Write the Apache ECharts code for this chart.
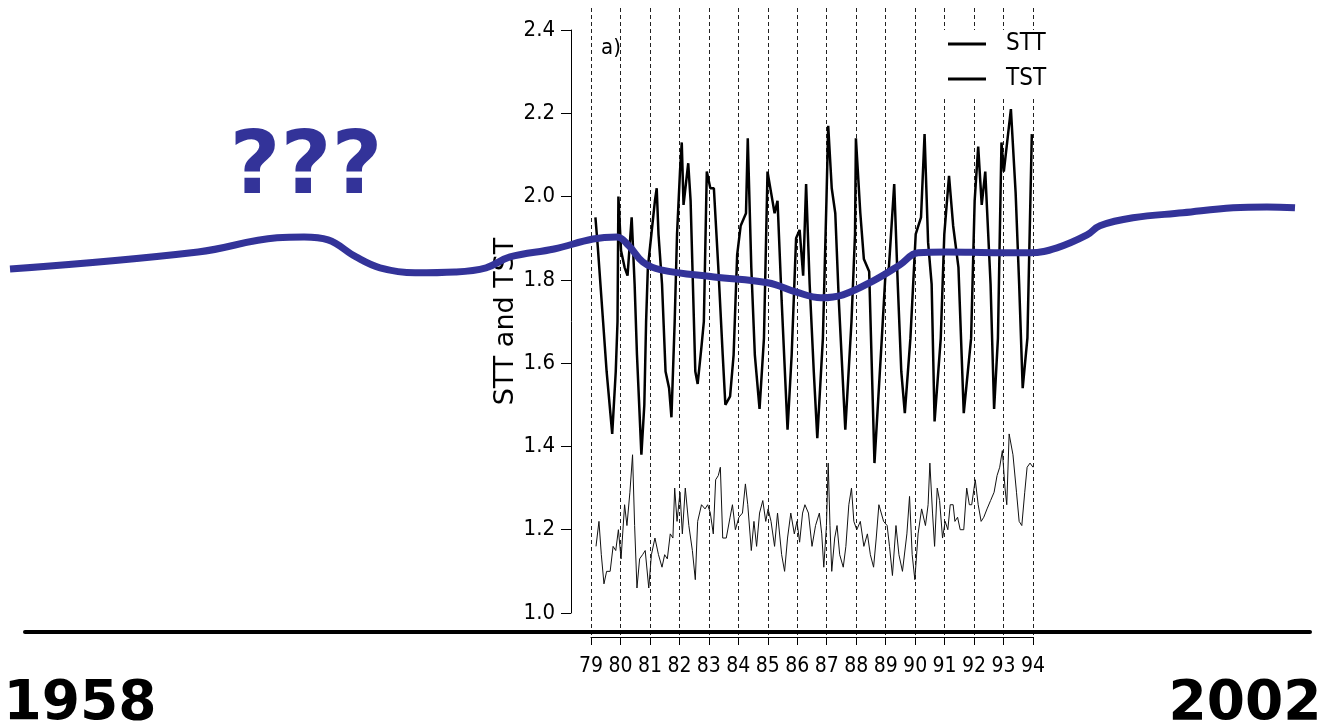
<!DOCTYPE html>
<html>
<head>
<meta charset="utf-8">
<script src="https://cdn.jsdelivr.net/npm/echarts@6/dist/echarts.min.js"></script>
<style>
html,body{margin:0;padding:0;background:#fff;}
#chart{width:1323px;height:728px;}
</style>
</head>
<body>
<div id="chart"></div>
<script>
// Inner chart: STT (thick) and TST (thin), years 79-94
var sttX = [79.15,79.23,79.41,79.53,79.72,79.84,79.90,79.93,80.02,80.14,80.24,80.38,80.48,80.56,80.71,80.81,80.87,80.93,81.05,81.17,81.23,81.29,81.41,81.53,81.65,81.73,81.84,81.92,82.02,82.08,82.14,82.30,82.38,82.54,82.62,82.75,82.83,82.93,83.05,83.17,83.32,83.47,83.56,83.72,83.84,83.96,84.08,84.26,84.32,84.44,84.56,84.72,84.87,84.99,85.11,85.23,85.33,85.47,85.67,85.81,85.96,86.08,86.20,86.30,86.42,86.56,86.68,86.87,86.99,87.05,87.17,87.29,87.41,87.63,87.84,87.96,87.99,88.14,88.26,88.44,88.62,88.87,88.99,89.11,89.29,89.41,89.53,89.65,89.84,90.02,90.20,90.32,90.44,90.56,90.66,90.87,90.99,91.15,91.29,91.47,91.65,91.90,92.02,92.14,92.26,92.38,92.56,92.68,92.81,92.93,93.01,93.25,93.41,93.53,93.65,93.81,93.96];
var sttY = [1.95,1.88,1.70,1.58,1.43,1.58,1.70,2.00,1.87,1.83,1.81,1.95,1.79,1.62,1.38,1.50,1.70,1.83,1.91,1.99,2.02,1.91,1.79,1.58,1.54,1.47,1.70,1.91,2.06,2.13,1.98,2.08,1.99,1.58,1.55,1.64,1.70,2.06,2.02,2.02,1.83,1.62,1.50,1.52,1.62,1.86,1.93,1.96,2.14,1.83,1.62,1.49,1.66,2.06,2.01,1.96,1.99,1.75,1.44,1.62,1.90,1.92,1.81,2.03,1.79,1.58,1.42,1.66,1.99,2.17,2.02,1.96,1.75,1.44,1.70,1.91,2.14,1.96,1.85,1.82,1.36,1.66,1.81,1.83,2.03,1.79,1.58,1.48,1.66,1.91,1.95,2.15,1.89,1.79,1.46,1.66,1.91,2.05,1.93,1.83,1.48,1.66,1.99,2.12,1.98,2.06,1.79,1.49,1.66,2.13,2.06,2.21,2.01,1.79,1.54,1.66,2.15];
var tstX = [79.17,79.27,79.35,79.44,79.53,79.65,79.75,79.84,79.93,80.02,80.14,80.22,80.32,80.41,80.48,80.56,80.65,80.75,80.84,80.96,81.05,81.17,81.29,81.41,81.50,81.59,81.69,81.78,81.84,81.92,82.02,82.10,82.20,82.32,82.44,82.54,82.62,82.75,82.87,82.96,83.05,83.15,83.23,83.32,83.39,83.47,83.59,83.72,83.80,83.90,84.02,84.14,84.24,84.32,84.44,84.53,84.62,84.72,84.83,84.93,85.01,85.11,85.23,85.33,85.47,85.57,85.67,85.78,85.90,85.99,86.08,86.18,86.26,86.38,86.50,86.62,86.75,86.83,86.90,86.99,87.05,87.11,87.17,87.27,87.35,87.44,87.56,87.65,87.75,87.84,87.92,88.02,88.14,88.26,88.38,88.48,88.59,88.68,88.77,88.93,89.05,89.13,89.23,89.35,89.45,89.57,89.72,89.81,89.90,89.99,90.10,90.22,90.35,90.44,90.50,90.59,90.66,90.75,90.83,90.93,91.02,91.11,91.19,91.29,91.35,91.44,91.53,91.65,91.75,91.84,91.92,92.04,92.14,92.24,92.33,92.44,92.56,92.68,92.78,92.87,92.96,93.05,93.11,93.19,93.32,93.44,93.53,93.62,93.72,93.80,93.90,94.00];
var tstY = [1.16,1.22,1.14,1.07,1.10,1.10,1.16,1.15,1.20,1.13,1.26,1.21,1.29,1.38,1.21,1.06,1.13,1.14,1.15,1.06,1.14,1.18,1.14,1.11,1.14,1.13,1.19,1.18,1.30,1.22,1.29,1.19,1.30,1.21,1.15,1.08,1.22,1.26,1.25,1.26,1.24,1.19,1.32,1.33,1.35,1.18,1.18,1.23,1.26,1.20,1.23,1.24,1.31,1.26,1.15,1.22,1.16,1.24,1.27,1.22,1.25,1.22,1.16,1.24,1.14,1.10,1.18,1.24,1.19,1.22,1.17,1.24,1.26,1.24,1.16,1.21,1.24,1.19,1.11,1.21,1.36,1.21,1.10,1.18,1.21,1.14,1.11,1.16,1.26,1.30,1.22,1.20,1.22,1.16,1.19,1.14,1.11,1.18,1.26,1.22,1.21,1.16,1.09,1.21,1.14,1.10,1.19,1.28,1.14,1.08,1.19,1.25,1.21,1.26,1.36,1.24,1.16,1.30,1.27,1.18,1.22,1.20,1.26,1.26,1.22,1.23,1.20,1.20,1.30,1.26,1.26,1.32,1.26,1.22,1.23,1.25,1.27,1.29,1.33,1.35,1.39,1.30,1.26,1.43,1.38,1.29,1.22,1.21,1.29,1.35,1.36,1.35];
// Overlay: long-term sketch 1958-2002 (same value units)
var blueX = [1958.0,1964.44,1967.14,1968.07,1968.89,1969.85,1970.67,1971.87,1973.24,1974.30,1975.12,1976.63,1977.96,1978.78,1979.19,1979.67,1980.29,1982.11,1983.95,1984.91,1985.77,1986.52,1987.62,1988.47,1989.09,1990.05,1991.90,1992.93,1993.85,1994.88,1995.32,1996.45,1998.16,1999.88,2001.04,2002.0];
var blueY = [1.826,1.867,1.901,1.903,1.896,1.855,1.829,1.817,1.819,1.829,1.855,1.874,1.898,1.903,1.882,1.843,1.824,1.807,1.793,1.771,1.757,1.764,1.800,1.836,1.865,1.867,1.865,1.865,1.877,1.908,1.930,1.949,1.961,1.973,1.975,1.973];
var seriesNames = ['STT','TST'];
var spanLabels = ['1958','2002'];
var questionText = '???';
var panelLabel = 'a)';
var yAxisTitle = 'STT and TST';

function zip(a,b){ var r=[]; for(var i=0;i<a.length;i++) r.push([a[i],b[i]]); return r; }

var narrow = "'DejaVu Sans Condensed', 'Liberation Sans Narrow', 'Liberation Sans', sans-serif";
var chart = echarts.init(document.getElementById('chart'), null, {renderer:'canvas'});
chart.setOption({
  animation:false,
  backgroundColor:'#fff',
  title:{text:panelLabel,left:601,top:37,padding:0,textStyle:{fontSize:22,fontWeight:'normal',color:'#000',fontFamily:narrow}},
  legend:{
    data:seriesNames, orient:'vertical', left:940, top:30, icon:'rect',
    itemWidth:38, itemHeight:3, itemGap:11, padding:[2,4,8,8], backgroundColor:'#fff',
    textStyle:{fontSize:24,color:'#000',fontFamily:narrow,lineHeight:24,padding:[0,0,0,15]}
  },
  grid:[
    {left:591, top:30, width:442, height:583},
    {left:591, top:8, width:442, height:629},
    {left:10, top:30, width:1285, height:583},
    {left:25, top:0, width:1285, height:632}
  ],
  xAxis:[
    {gridIndex:0,type:'value',min:79,max:94,interval:1,offset:24,
     axisLine:{show:true,lineStyle:{color:'#000',width:1}},
     axisTick:{show:true,length:8,lineStyle:{color:'#000'}},
     axisLabel:{fontSize:21,color:'#000',fontFamily:narrow,margin:19,formatter:function(v){return String(v);}},
     splitLine:{show:false}},
    {gridIndex:1,type:'value',min:79,max:94,interval:1,
     axisLine:{show:false},axisTick:{show:false},axisLabel:{show:false},
     splitLine:{show:true,lineStyle:{color:'#222',width:1,type:[4,3]}}},
    {gridIndex:2,type:'value',min:1958,max:2002,show:false},
    {gridIndex:3,type:'value',min:1958,max:2002,
     axisLine:{show:true,lineStyle:{color:'#000',width:4}},axisTick:{show:false},axisLabel:{show:false},splitLine:{show:false}}
  ],
  yAxis:[
    {gridIndex:0,type:'value',min:1.0,max:2.4,interval:0.2,offset:20,
     name:yAxisTitle,nameLocation:'middle',nameGap:50,
     nameTextStyle:{fontSize:27,color:'#000',fontFamily:"'DejaVu Sans', sans-serif"},
     axisLine:{show:true,lineStyle:{color:'#000',width:1}},
     axisTick:{show:true,length:10,lineStyle:{color:'#000'}},
     axisLabel:{fontSize:22,color:'#000',fontFamily:narrow,margin:16,formatter:function(v){return v.toFixed(1);}},
     splitLine:{show:false}},
    {gridIndex:1,type:'value',show:false},
    {gridIndex:2,type:'value',min:1.0,max:2.4,show:false},
    {gridIndex:3,type:'value',show:false}
  ],
  series:[
    {name:'STT',type:'line',xAxisIndex:0,yAxisIndex:0,data:zip(sttX,sttY),showSymbol:false,
     lineStyle:{color:'#000',width:2.5},itemStyle:{color:'#000'},z:3},
    {name:'TST',type:'line',xAxisIndex:0,yAxisIndex:0,data:zip(tstX,tstY),showSymbol:false,
     lineStyle:{color:'#111',width:1},itemStyle:{color:'#000'},z:3},
    {name:'trend',type:'line',xAxisIndex:2,yAxisIndex:2,data:zip(blueX,blueY),showSymbol:false,smooth:0.4,
     lineStyle:{color:'#333399',width:7},itemStyle:{color:'#333399'},z:10}
  ],
  graphic:[
    {type:'text',x:306,y:170,z:20,style:{text:questionText,align:'center',verticalAlign:'middle',font:'bold 88px "DejaVu Sans", sans-serif',fill:'#333399'}},
    {type:'text',x:80,y:705,z:20,style:{text:spanLabels[0],align:'center',verticalAlign:'middle',font:'bold 55px "DejaVu Sans", sans-serif',fill:'#000'}},
    {type:'text',x:1245,y:705,z:20,style:{text:spanLabels[1],align:'center',verticalAlign:'middle',font:'bold 55px "DejaVu Sans", sans-serif',fill:'#000'}}
  ]
});
</script>
</body>
</html>
